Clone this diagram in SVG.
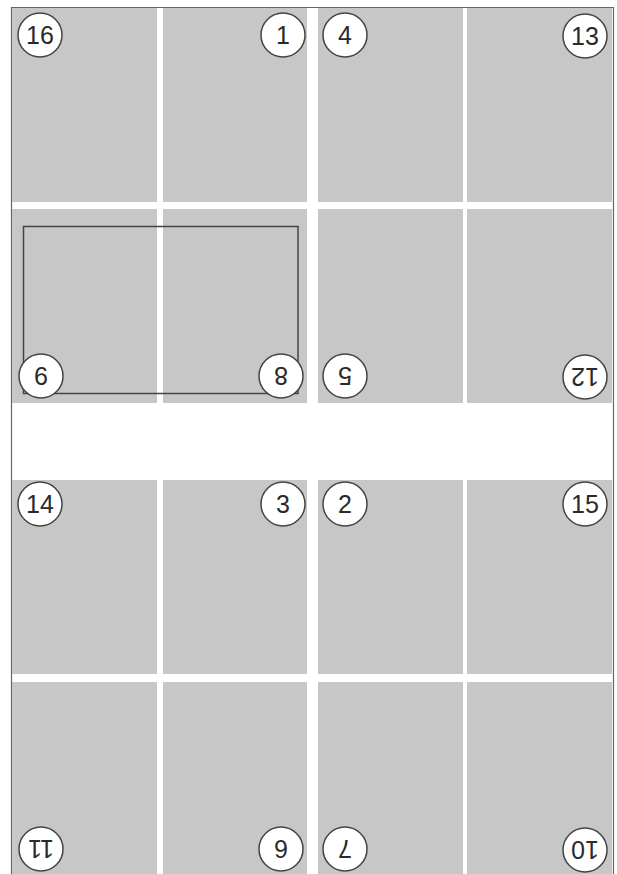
<svg xmlns="http://www.w3.org/2000/svg" width="617" height="874" viewBox="0 0 617 874">
<style>
.pg{fill:#c7c7c7}
.c{fill:#fff;stroke:#444;stroke-width:1.5}
.t{font-family:"Liberation Sans",Arial,sans-serif;font-size:25px;fill:#2a2a2a;text-anchor:middle}
.fr{fill:none;stroke:#666;stroke-width:1.2}
</style>
<rect width="617" height="874" fill="#fff"/>
<g id="frame">
<path class="fr" d="M11.5 874V7.5H613.5V874"/>
</g>
<g id="sheet">
<rect class="pg" x="12" y="8" width="145" height="194"/>
<rect class="pg" x="163" y="8" width="144" height="194"/>
<rect class="pg" x="318" y="8" width="145" height="194"/>
<rect class="pg" x="467" y="8" width="145" height="194"/>
<rect class="pg" x="12" y="209" width="145" height="194"/>
<rect class="pg" x="163" y="209" width="144" height="194"/>
<rect class="pg" x="318" y="209" width="145" height="194"/>
<rect class="pg" x="467" y="209" width="145" height="194"/>
<rect class="pg" x="12" y="480" width="145" height="194"/>
<rect class="pg" x="163" y="480" width="144" height="194"/>
<rect class="pg" x="318" y="480" width="145" height="194"/>
<rect class="pg" x="467" y="480" width="145" height="194"/>
<rect class="pg" x="12" y="682" width="145" height="192"/>
<rect class="pg" x="163" y="682" width="144" height="192"/>
<rect class="pg" x="318" y="682" width="145" height="192"/>
<rect class="pg" x="467" y="682" width="145" height="192"/>
</g>
<g id="selection">
<rect x="23.5" y="226.5" width="274.5" height="167" fill="none" stroke="#444" stroke-width="1.5"/>
</g>
<g id="p16"><circle class="c" cx="40" cy="35" r="22"/><text class="t" x="40" y="44">16</text></g>
<g id="p1"><circle class="c" cx="283" cy="35" r="22"/><text class="t" x="283" y="44">1</text></g>
<g id="p4"><circle class="c" cx="345" cy="35" r="22"/><text class="t" x="345" y="44">4</text></g>
<g id="p13"><circle class="c" cx="585" cy="36" r="22"/><text class="t" x="585" y="45">13</text></g>

<g id="p9"><circle class="c" cx="41" cy="376" r="22"/><text class="t" transform="rotate(180 41 376)" x="41" y="385">9</text></g>
<g id="p8"><circle class="c" cx="281" cy="376" r="22"/><text class="t" transform="rotate(180 281 376)" x="281" y="385">8</text></g>
<g id="p5"><circle class="c" cx="345" cy="376" r="22"/><text class="t" transform="rotate(180 345 376)" x="345" y="385">5</text></g>
<g id="p12"><circle class="c" cx="585" cy="377" r="22"/><text class="t" transform="rotate(180 585 377)" x="585" y="386">12</text></g>

<g id="p14"><circle class="c" cx="40" cy="504" r="22"/><text class="t" x="40" y="513">14</text></g>
<g id="p3"><circle class="c" cx="283" cy="504" r="22"/><text class="t" x="283" y="513">3</text></g>
<g id="p2"><circle class="c" cx="345" cy="504" r="22"/><text class="t" x="345" y="513">2</text></g>
<g id="p15"><circle class="c" cx="585" cy="504" r="22"/><text class="t" x="585" y="513">15</text></g>

<g id="p11"><circle class="c" cx="41" cy="849" r="22"/><text class="t" transform="rotate(180 41 849)" x="41" y="858">11</text></g>
<g id="p6"><circle class="c" cx="281" cy="849" r="22"/><text class="t" transform="rotate(180 281 849)" x="281" y="858">6</text></g>
<g id="p7"><circle class="c" cx="345" cy="849" r="22"/><text class="t" transform="rotate(180 345 849)" x="345" y="858">7</text></g>
<g id="p10"><circle class="c" cx="585" cy="850" r="22"/><text class="t" transform="rotate(180 585 850)" x="585" y="859">10</text></g>
</svg>
